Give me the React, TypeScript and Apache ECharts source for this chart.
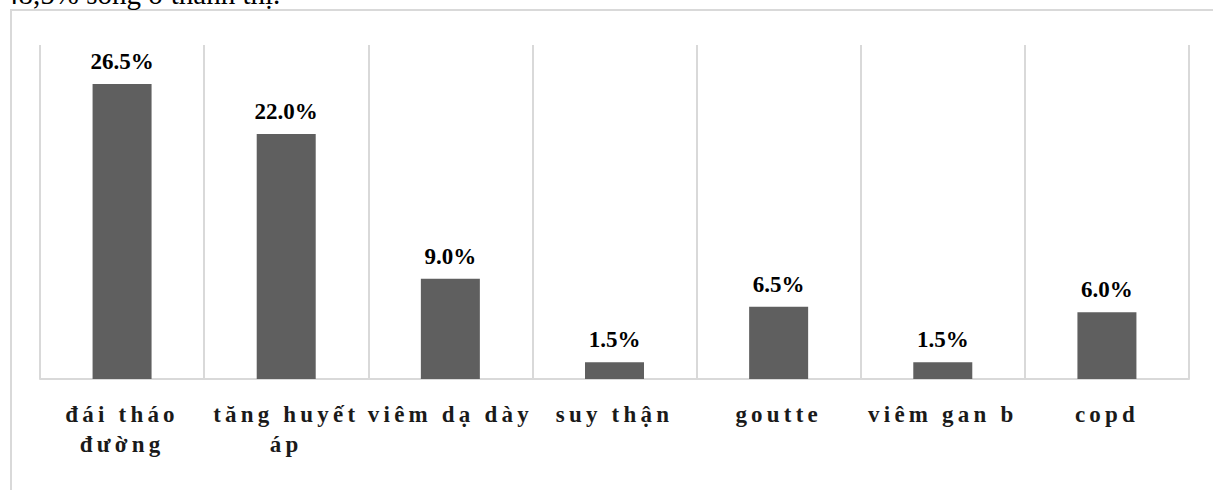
import React, { useEffect, useRef } from "react";
import * as echarts from "echarts";

// Disease categories (line breaks where the label wraps) and their shares in %
const categories = [
  "đái tháo\nđường",
  "tăng huyết\náp",
  "viêm dạ dày",
  "suy thận",
  "goutte",
  "viêm gan b",
  "copd",
];
const values = [26.5, 22.0, 9.0, 1.5, 6.5, 1.5, 6.0];

// Value axis range
const yMin = 0;
const yMax = 30;

// Trailing sentence of the preceding paragraph, cut by the top edge
const captionText = "48,5% sống ở thành thị.";

const SERIF = '"Liberation Serif", "Times New Roman", serif';
const GRID_GREY = "#d9d9d9";
const BAR_GREY = "#5f5f5f";
const LABEL_SPACING = "4.2";

export default function App() {
  const ref = useRef<HTMLDivElement>(null);

  useEffect(() => {
    if (!ref.current) return;
    const chart = echarts.init(ref.current, undefined, { renderer: "svg" });

    const labelLines = new Set(categories.flatMap((c) => c.split("\n")));
    // Category labels are set with expanded character spacing
    const spaceOutLabels = () => {
      const root = ref.current;
      if (!root) return;
      root.querySelectorAll("text").forEach((t) => {
        if (labelLines.has((t.textContent || "").trim())) {
          t.setAttribute("letter-spacing", LABEL_SPACING);
        }
      });
    };

    chart.setOption({
      animation: false,
      backgroundColor: "#ffffff",
      grid: { left: 40, right: 24, top: 45, bottom: 111, containLabel: false },
      xAxis: {
        type: "category",
        data: categories,
        boundaryGap: true,
        axisLine: { show: true, lineStyle: { color: GRID_GREY, width: 2 } },
        axisTick: { show: false },
        splitLine: { show: true, lineStyle: { color: GRID_GREY, width: 2 } },
        axisLabel: {
          interval: 0,
          margin: 20,
          color: "#1a1a1a",
          fontFamily: SERIF,
          fontWeight: "bold",
          fontSize: 23,
          lineHeight: 30,
        },
      },
      yAxis: {
        type: "value",
        min: yMin,
        max: yMax,
        show: false,
        splitLine: { show: false },
      },
      series: [
        {
          type: "bar",
          data: values,
          barWidth: 59,
          itemStyle: { color: BAR_GREY },
          label: {
            show: true,
            position: "top",
            distance: 11,
            color: "#000000",
            fontFamily: SERIF,
            fontWeight: "bold",
            fontSize: 23,
            formatter: (p: any) => Number(p.value).toFixed(1) + "%",
          },
        },
      ],
      graphic: [
        {
          type: "rect",
          silent: true,
          z: -1,
          shape: { x: 11, y: 10, width: 1400, height: 700 },
          style: { fill: "none", stroke: GRID_GREY, lineWidth: 2 },
        },
        {
          type: "text",
          silent: true,
          x: 4,
          y: -6,
          style: {
            text: captionText,
            fill: "#000000",
            font: `29px ${SERIF}`,
            verticalAlign: "middle",
            align: "left",
          },
        },
      ],
    });

    spaceOutLabels();
    chart.on("finished", spaceOutLabels);

    return () => {
      chart.dispose();
    };
  }, []);

  return (
    <div
      ref={ref}
      style={{ position: "fixed", left: 0, top: 0, width: 1213, height: 490 }}
    />
  );
}
